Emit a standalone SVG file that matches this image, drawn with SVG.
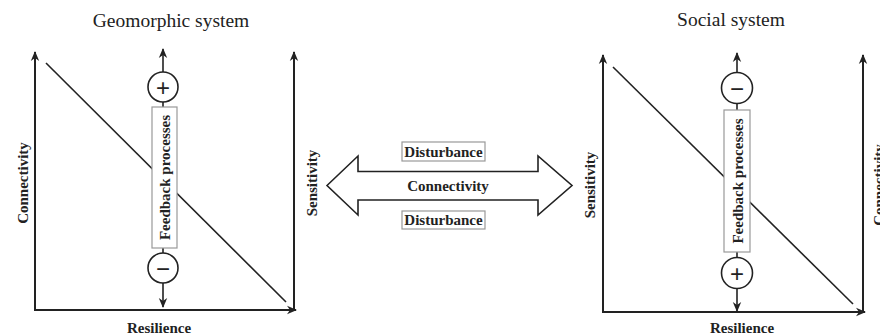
<svg xmlns="http://www.w3.org/2000/svg" width="880" height="336" viewBox="0 0 880 336">
  <style>
    .title { font-family: "Liberation Serif", "Times New Roman", serif; font-size: 19.5px; fill: #222; }
    .lab { font-family: "Liberation Serif", "Times New Roman", serif; font-size: 15px; font-weight: bold; fill: #222; }
    .sign { font-family: "Liberation Sans", Arial, sans-serif; font-size: 24px; fill: #222; }
    .axis { stroke: #222; stroke-width: 2; fill: none; }
    .diag { stroke: #222; stroke-width: 1.6; fill: none; }
    .fb { stroke: #222; stroke-width: 1.6; fill: none; }
    .circ { stroke: #222; stroke-width: 1.6; fill: #fff; }
    .box { stroke: #999; stroke-width: 1.2; fill: #fff; }
    .big { stroke: #222; stroke-width: 1.6; fill: #fff; stroke-linejoin: miter; }
  </style>
  <defs>
    <marker id="ah" markerUnits="userSpaceOnUse" markerWidth="10" markerHeight="10" viewBox="0 0 10 10" refX="9" refY="5" orient="auto-start-reverse">
      <path d="M0,0.8 L10,5 L0,9.2 L3,5 z" fill="#222"/>
    </marker>
  </defs>
  <rect width="880" height="336" fill="#fff"/>

  <g id="connectors">
    <line class="axis" x1="35" y1="310" x2="35" y2="52" marker-end="url(#ah)"/>
    <line class="axis" x1="34" y1="310" x2="296" y2="310" marker-end="url(#ah)"/>
    <line class="axis" x1="294" y1="310" x2="294" y2="52" marker-end="url(#ah)"/>
    <line class="diag" x1="46" y1="63" x2="286" y2="302"/>
    <line class="fb" x1="163" y1="307" x2="163" y2="49" marker-start="url(#ah)" marker-end="url(#ah)"/>
    <line class="axis" x1="603" y1="312" x2="603" y2="55" marker-end="url(#ah)"/>
    <line class="axis" x1="602" y1="312" x2="865" y2="312" marker-end="url(#ah)"/>
    <line class="axis" x1="863" y1="312" x2="863" y2="55" marker-end="url(#ah)"/>
    <line class="diag" x1="613" y1="67" x2="853" y2="304"/>
    <line class="fb" x1="737" y1="311" x2="737" y2="53" marker-start="url(#ah)" marker-end="url(#ah)"/>
  </g>

  <g id="geomorphic-system">
    <text class="title" x="171" y="27" text-anchor="middle">Geomorphic system</text>
    <text class="lab" transform="translate(28,183) rotate(-90)" text-anchor="middle">Connectivity</text>
    <text class="lab" transform="translate(317,183) rotate(-90)" text-anchor="middle">Sensitivity</text>
    <text class="lab" x="159" y="333" text-anchor="middle">Resilience</text>
  </g>
  <g id="geo-plus">
    <circle class="circ" cx="163" cy="87" r="15"/>
    <text class="sign" x="163" y="95.5" text-anchor="middle">+</text>
  </g>
  <g id="geo-feedback">
    <rect class="box" x="152" y="107" width="25" height="141"/>
    <text class="lab" transform="translate(169.5,177.5) rotate(-90)" text-anchor="middle">Feedback processes</text>
  </g>
  <g id="geo-minus">
    <circle class="circ" cx="163" cy="268" r="15"/>
    <text class="sign" x="163" y="276.5" text-anchor="middle">−</text>
  </g>

  <g id="social-system">
    <text class="title" x="731" y="26" text-anchor="middle">Social system</text>
    <text class="lab" transform="translate(595,185) rotate(-90)" text-anchor="middle">Sensitivity</text>
    <text class="lab" transform="translate(884,185) rotate(-90)" text-anchor="middle">Connectivity</text>
    <text class="lab" x="742" y="333" text-anchor="middle">Resilience</text>
  </g>
  <g id="soc-minus">
    <circle class="circ" cx="737" cy="88" r="15.5"/>
    <text class="sign" x="737" y="96.5" text-anchor="middle">−</text>
  </g>
  <g id="soc-feedback">
    <rect class="box" x="724" y="110" width="26" height="142"/>
    <text class="lab" transform="translate(742.5,181) rotate(-90)" text-anchor="middle">Feedback processes</text>
  </g>
  <g id="soc-plus">
    <circle class="circ" cx="737" cy="273" r="15.5"/>
    <text class="sign" x="737" y="281.5" text-anchor="middle">+</text>
  </g>

  <g id="coupling">
    <polygon class="big" points="327,185.5 358,156 358,171.5 538,171.5 538,156 572,185.5 538,215 538,200 358,200 358,215"/>
    <text class="lab" x="448" y="191" text-anchor="middle">Connectivity</text>
  </g>
  <g id="disturbance-top">
    <rect class="box" x="402" y="142" width="83" height="19"/>
    <text class="lab" x="443.5" y="156.5" text-anchor="middle">Disturbance</text>
  </g>
  <g id="disturbance-bottom">
    <rect class="box" x="402" y="211" width="83" height="18"/>
    <text class="lab" x="443.5" y="225" text-anchor="middle">Disturbance</text>
  </g>
</svg>
